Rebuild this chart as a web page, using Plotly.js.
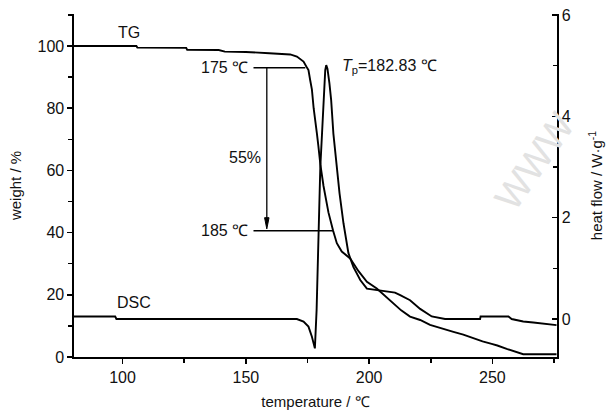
<!DOCTYPE html>
<html>
<head>
<meta charset="utf-8">
<script src="https://cdn.plot.ly/plotly-3.0.1.min.js"></script>
<style>html,body{margin:0;padding:0;background:#fff;}#chart{width:607px;height:413px;}</style>
</head>
<body>
<div id="chart"></div>
<script>
// TG curve: temperature (°C) vs weight (%)
const tgTemp = [80.3, 105.6, 106.0, 125.8, 126.2, 139.0, 141.5, 150.0, 159.5, 165.0, 168.0, 170.7, 173.4, 174.7, 175.4, 176.1, 176.8, 177.5, 178.1, 178.8, 179.4, 180.2, 181.5, 182.9, 183.5, 185.4, 186.9, 188.9, 192.3, 195.7, 199.1, 203.1, 206.0, 209.9, 213.0, 216.6, 220.7, 224.7, 229.0, 234.2, 238.2, 242.3, 246.0, 249.7, 252.0, 255.8, 259.0, 262.5, 276.0];
const tgWeight = [100.0, 100.0, 99.5, 99.4, 98.8, 98.7, 98.2, 98.1, 97.7, 97.5, 97.3, 96.6, 95.0, 93.2, 92.3, 89.0, 86.0, 80.0, 77.0, 72.0, 68.0, 62.0, 55.0, 48.0, 46.5, 40.6, 36.6, 33.9, 31.7, 27.6, 24.2, 22.0, 20.0, 17.3, 15.0, 13.0, 11.9, 10.3, 9.2, 8.1, 7.2, 6.0, 5.0, 4.2, 3.7, 2.6, 1.7, 0.9, 0.9];

// DSC curve: temperature (°C) vs heat flow (W/g)
const dscTemp = [80.3, 97.0, 97.5, 170.7, 173.4, 175.4, 176.8, 178.0, 178.7, 179.9, 180.2, 180.9, 181.5, 182.2, 182.6, 183.1, 183.9, 184.6, 185.5, 186.9, 188.0, 189.6, 191.6, 193.6, 196.4, 199.1, 203.1, 208.5, 210.5, 212.6, 216.6, 220.7, 225.4, 230.8, 245.0, 245.2, 256.5, 257.8, 262.5, 266.6, 272.7, 276.0];
const dscHeat = [0.05, 0.05, 0.0, 0.0, -0.05, -0.15, -0.35, -0.58, 0.18, 2.54, 3.0, 3.66, 4.32, 4.91, 5.01, 4.94, 4.65, 4.32, 3.66, 3.0, 2.48, 1.89, 1.30, 1.03, 0.77, 0.60, 0.57, 0.54, 0.52, 0.47, 0.37, 0.20, 0.05, 0.0, 0.0, 0.05, 0.05, 0.0, -0.05, -0.07, -0.10, -0.12];

// Annotation values
const onsetTemp = 175, endTemp = 185, peakTemp = 182.83, lossPct = 55;
const onsetWeight = 93.0, endWeight = 40.6;
const xTicks = [100, 150, 200, 250];
const yTicks = [0, 20, 40, 60, 80, 100];
const y2Ticks = [0, 2, 4, 6];

const FONT = "'Liberation Sans', Arial, sans-serif";
const BLK = '#000';
const TXT = '#111';

const traces = [
  {x: tgTemp, y: tgWeight, mode: 'lines', line: {color: BLK, width: 1.9}, yaxis: 'y', hoverinfo: 'skip'},
  {x: dscTemp, y: dscHeat, mode: 'lines', line: {color: BLK, width: 1.9}, yaxis: 'y2', hoverinfo: 'skip'}
];

const axisBase = {
  showline: true, linecolor: BLK, linewidth: 1.6, showgrid: false, zeroline: false,
  tickcolor: BLK, tickwidth: 1.5, ticklen: 5,
  tickfont: {family: FONT, size: 16, color: TXT}
};

const arrowX = 158.5;

const layout = {
  width: 607, height: 413,
  margin: {l: 74, r: 50, t: 14, b: 56},
  paper_bgcolor: '#fff', plot_bgcolor: '#fff',
  showlegend: false,
  font: {family: FONT, color: TXT},
  xaxis: Object.assign({}, axisBase, {
    range: [80.3, 276.2], tickvals: xTicks, ticks: 'outside',
    minor: {dtick: 25, tick0: 0, ticks: 'outside', ticklen: 4, tickcolor: BLK, tickwidth: 1.5},
    title: {text: 'temperature / ℃', font: {family: FONT, size: 15, color: TXT}, standoff: 12}
  }),
  yaxis: Object.assign({}, axisBase, {
    range: [0, 110.3], tickvals: yTicks, ticks: 'outside',
    minor: {dtick: 10, tick0: 0, ticks: 'outside', ticklen: 4, tickcolor: BLK, tickwidth: 1.5},
    title: {text: 'weight / %', font: {family: FONT, size: 15, color: TXT}, standoff: 12}
  }),
  yaxis2: Object.assign({}, axisBase, {
    overlaying: 'y', side: 'right', anchor: 'x',
    range: [-0.75, 6.02], tickvals: y2Ticks, ticks: 'inside',
    minor: {dtick: 1, tick0: 0, ticks: 'inside', ticklen: 4, tickcolor: BLK, tickwidth: 1.5},
    title: {text: 'heat flow / W·g<sup>-1</sup>', font: {family: FONT, size: 15, color: TXT}, standoff: 22}
  }),
  shapes: [
    {type: 'line', xref: 'x', yref: 'y', x0: 153.1, x1: onsetTemp - 0.9, y0: onsetWeight, y1: onsetWeight, line: {color: BLK, width: 1.5}},
    {type: 'line', xref: 'x', yref: 'y', x0: 153.1, x1: endTemp + 0.4, y0: endWeight, y1: endWeight, line: {color: BLK, width: 1.5}},
    {type: 'line', xref: 'x', yref: 'y', x0: arrowX, x1: arrowX, y0: onsetWeight, y1: endWeight + 2.5, line: {color: BLK, width: 1.3}},
    {type: 'path', xref: 'x', yref: 'y',
     path: 'M ' + (arrowX - 0.9) + ',' + (endWeight + 4.2) + ' L ' + (arrowX + 0.9) + ',' + (endWeight + 4.2) + ' L ' + arrowX + ',' + (endWeight + 0.6) + ' Z',
     fillcolor: BLK, line: {color: BLK, width: 1}}
  ],
  annotations: [
    {xref: 'x', yref: 'y', x: 151.5, y: onsetWeight, text: onsetTemp + ' ℃', showarrow: false, xanchor: 'right', yanchor: 'middle', font: {family: FONT, size: 16, color: TXT}},
    {xref: 'x', yref: 'y', x: 151.5, y: endWeight, text: endTemp + ' ℃', showarrow: false, xanchor: 'right', yanchor: 'middle', font: {family: FONT, size: 16, color: TXT}},
    {xref: 'x', yref: 'y', x: 157.0, y: 64, text: lossPct + '%', showarrow: false, xanchor: 'right', yanchor: 'middle', font: {family: FONT, size: 16, color: TXT}},
    {xref: 'x', yref: 'y', x: 188.0, y: 93.5, text: '<i>T</i><sub>p</sub>=' + peakTemp + ' ℃', showarrow: false, xanchor: 'left', yanchor: 'middle', font: {family: FONT, size: 16, color: TXT}},
    {xref: 'x', yref: 'y', x: 102.6, y: 104.5, text: 'TG', showarrow: false, xanchor: 'center', yanchor: 'middle', font: {family: FONT, size: 16, color: TXT}},
    {xref: 'x', yref: 'y', x: 104.5, y: 17.5, text: 'DSC', showarrow: false, xanchor: 'center', yanchor: 'middle', font: {family: FONT, size: 16, color: TXT}},
    {xref: 'paper', yref: 'paper', x: 0.955, y: 0.57, xanchor: 'center', yanchor: 'middle', text: 'WWW', showarrow: false, textangle: -55, font: {family: FONT, size: 38, color: '#e2e2e2'}}
  ]
};

Plotly.newPlot('chart', traces, layout, {staticPlot: true, displayModeBar: false});
</script>
</body>
</html>
